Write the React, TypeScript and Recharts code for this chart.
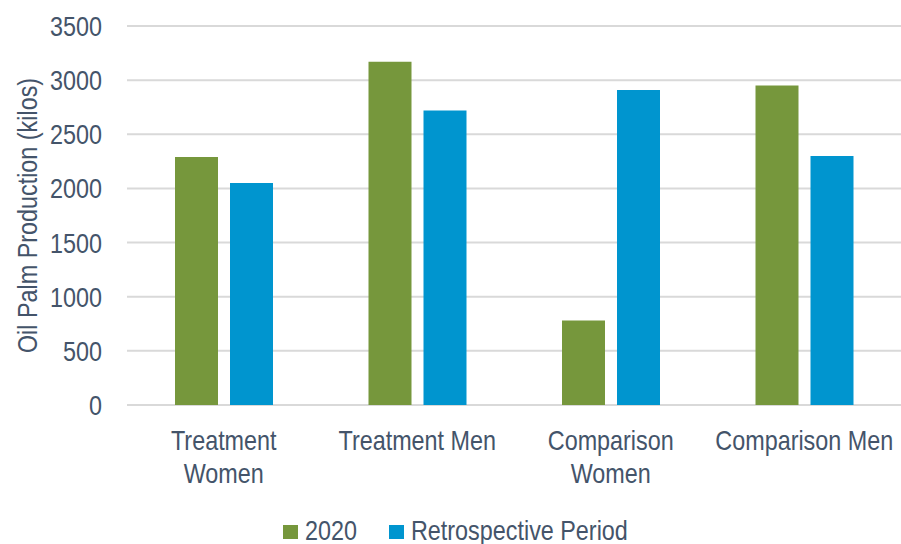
import React from "react";
import { BarChart, Bar, XAxis, YAxis, CartesianGrid, Legend, Label } from "recharts";

const categories = ["Treatment Women", "Treatment Men", "Comparison Women", "Comparison Men"];
const tickLines = [["Treatment", "Women"], ["Treatment Men"], ["Comparison", "Women"], ["Comparison Men"]];
const values2020 = [2290, 3170, 780, 2950];
const valuesRetro = [2050, 2720, 2910, 2300];
const yTicks = [0, 500, 1000, 1500, 2000, 2500, 3000, 3500];

// no Arial Narrow available: squeeze Liberation Sans horizontally instead
const FONT = "'Liberation Sans', Arial, sans-serif";
const SQ = 0.82;
const FS = 28.5;
const TEXT = "#44546A";
const GREEN = "#76973C";
const BLUE = "#0095CF";

const data = categories.map((name, i) => ({ name, y2020: values2020[i], retro: valuesRetro[i] }));

const CategoryTick = (props: any) => {
  const { x, y, index } = props;
  const lines = tickLines[index] ?? [props.payload.value];
  return (
    <g transform={`translate(${x},${y}) scale(${SQ},1)`}>
      <text x={0} y={0} textAnchor="middle" fill={TEXT} fontSize={FS} fontFamily={FONT}>
        {lines.map((l, i) => (
          <tspan key={i} x={0} dy={i === 0 ? 20 : 33}>{l}</tspan>
        ))}
      </text>
    </g>
  );
};

const ValueTick = (props: any) => {
  const { x, y, payload } = props;
  return (
    <g transform={`translate(${x},${y}) scale(${SQ},1)`}>
      <text x={0} y={0} dy={10} textAnchor="end" fill={TEXT} fontSize={FS} fontFamily={FONT}>{payload.value}</text>
    </g>
  );
};

const AxisTitle = (props: any) => {
  const vb = props.viewBox || {};
  const cy = vb.y + vb.height / 2;
  return (
    <g transform={`translate(27,${cy}) rotate(-90) scale(${SQ},1)`}>
      <text x={0} y={0} dy={10} textAnchor="middle" fill={TEXT} fontSize={FS} fontFamily={FONT}>{props.value}</text>
    </g>
  );
};

const LegendContent = (props: any) => {
  const items = props.payload || [];
  const pos = [0, 106];
  return (
    <svg width={360} height={28} style={{ display: "block" }}>
      {items.map((it: any, i: number) => (
        <g key={i} transform={`translate(${pos[i]},0)`}>
          <rect x={0} y={9} width={15} height={14} fill={it.color} />
          <g transform={`translate(22,24) scale(${SQ},1)`}>
            <text x={0} y={0} fill={TEXT} fontSize={FS} fontFamily={FONT}>{it.value}</text>
          </g>
        </g>
      ))}
    </svg>
  );
};

export default function App() {
  return (
    <div style={{ width: 901, height: 544, background: "#fff" }}>
      <style>{"body{margin:0}"}</style>
      <BarChart width={901} height={544} data={data} margin={{ top: 26, right: 0, left: 0, bottom: 31 }} barSize={43} barGap={12}>
        <CartesianGrid vertical={false} stroke="#D9D9D9" strokeWidth={2} />
        <XAxis dataKey="name" axisLine={false} tickLine={false} height={80} tickMargin={19} interval={0} tick={<CategoryTick />} />
        <YAxis width={127} domain={[0, 3500]} ticks={yTicks} axisLine={false} tickLine={false} tickMargin={19} tick={<ValueTick />}>
          <Label value="Oil Palm Production (kilos)" position="insideLeft" content={<AxisTitle />} />
        </YAxis>
        <Legend verticalAlign="bottom" content={<LegendContent />} wrapperStyle={{ left: 283, top: 516, width: "auto" }} />
        <Bar dataKey="y2020" name="2020" fill={GREEN} isAnimationActive={false} />
        <Bar dataKey="retro" name="Retrospective Period" fill={BLUE} isAnimationActive={false} />
      </BarChart>
    </div>
  );
}
